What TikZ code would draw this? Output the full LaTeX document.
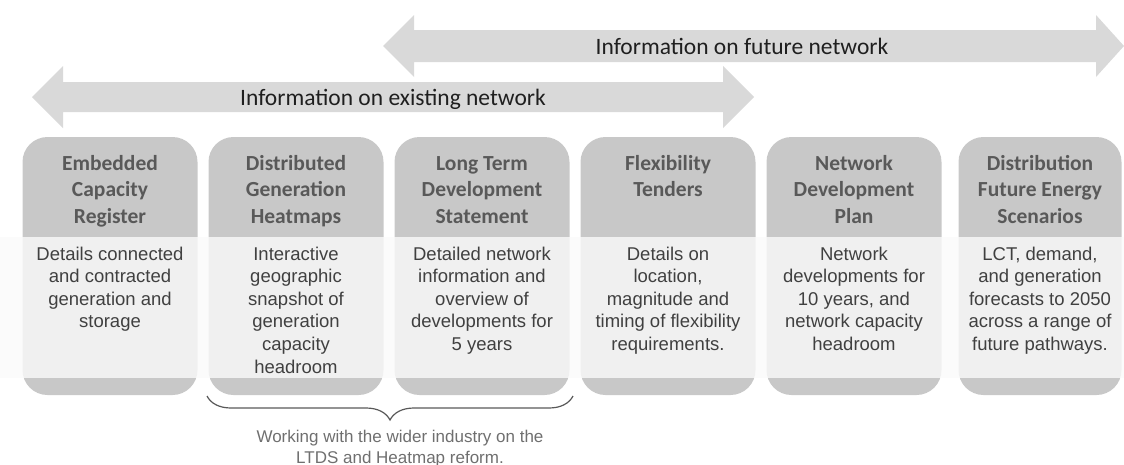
\documentclass[tikz,border=0pt]{standalone}
\usepackage{fontspec}
\setmainfont{Liberation Sans}
\newfontfamily\carlito{Carlito}
\usetikzlibrary{decorations.pathreplacing}
\definecolor{bandGrey}{HTML}{D9D9D9}
\definecolor{cardGrey}{HTML}{C8C8C8}
\definecolor{cardVeil}{HTML}{FAFAFA}
\definecolor{headInk}{HTML}{595959}
\definecolor{bodyInk}{HTML}{404040}
\definecolor{labelInk}{HTML}{1F1F1F}
\definecolor{noteInk}{HTML}{6F6F6F}

\begin{document}
\begin{tikzpicture}[
    x=1pt, y=-1pt,
    card/.style={
        rectangle,
        rounded corners=25pt,
        fill=cardGrey,
        minimum width=175pt,
        minimum height=258pt,
        inner sep=0pt
    },
    head/.style={
        anchor=base,
        align=center,
        inner sep=0pt,
        font=\carlito\bfseries\fontsize{21.5}{26.7}\selectfont,
        text=headInk
    },
    body/.style={
        anchor=base,
        align=center,
        inner sep=0pt,
        font=\fontsize{18.5}{22.6}\selectfont,
        text=bodyInk
    },
    banner/.style={
        anchor=base,
        inner sep=0pt,
        font=\carlito\fontsize{23.5}{28}\selectfont,
        text=labelInk
    },
    note/.style={
        anchor=base,
        align=center,
        inner sep=0pt,
        font=\fontsize{17}{21}\selectfont,
        text=noteInk
    },
    brace/.style={
        decorate,
        decoration={brace, mirror, amplitude=24pt, aspect=0.5},
        draw=headInk,
        line width=1.2pt
    }
]
\useasboundingbox (0,0) rectangle (1124,464);

% Banner arrows
\fill[bandGrey] (383,46) -- (414,15) -- (414,30) -- (1096,30) -- (1096,15)
    -- (1124,46) -- (1096,77) -- (1096,62) -- (414,62) -- (414,77) -- cycle;
\fill[bandGrey] (32,97) -- (63,66) -- (63,82) -- (723,82) -- (723,66)
    -- (754,97) -- (723,128) -- (723,112) -- (63,112) -- (63,128) -- cycle;

\node[banner] (future) at (742,54) {Information on future network};
\node[banner] (existing) at (393,105) {Information on existing network};

% Cards
\node[card] (ecr) at (110,266) {};
\node[card] (dgh) at (296,266) {};
\node[card] (ltds) at (482,266) {};
\node[card] (flex) at (668,266) {};
\node[card] (ndp) at (854,266) {};
\node[card, minimum width=163pt] (dfes) at (1040,266) {};

% Light band over the card bodies
\fill[cardVeil, fill opacity=0.82] (0,237) rectangle (1124,378);

% Card titles (base = last line)
\node[head] (ecrhead) at (110,223.4) {Embedded\\Capacity\\Register};
\node[head] (dghhead) at (296,223.4) {Distributed\\Generation\\Heatmaps};
\node[head] (ltdshead) at (482,223.4) {Long Term\\Development\\Statement};
\node[head] (flexhead) at (668,196.7) {Flexibility\\Tenders};
\node[head] (ndphead) at (854,223.4) {Network\\Development\\Plan};
\node[head] (dfeshead) at (1040,223.4) {Distribution\\Future Energy\\Scenarios};

% Card texts (base = last line)
\node[body] (ecrtext) at (110,327.8) {Details connected\\and contracted\\generation and\\storage};
\node[body] (dghtext) at (296,373) {Interactive\\geographic\\snapshot of\\generation\\capacity\\headroom};
\node[body] (ltdstext) at (482,350.4) {Detailed network\\information and\\overview of\\developments for\\5 years};
\node[body] (flextext) at (668,350.4) {Details on\\location,\\magnitude and\\timing of flexibility\\requirements.};
\node[body] (ndptext) at (854,350.4) {Network\\developments for\\10 years, and\\network capacity\\headroom};
\node[body] (dfestext) at (1040,350.4) {LCT, demand,\\and generation\\forecasts to 2050\\across a range of\\future pathways.};

% Brace under heatmaps and LTDS
\coordinate (braceleft) at (207,396);
\coordinate (braceright) at (573,396);
\draw[brace] (braceleft) -- (braceright);

\node[note] (reform) at (400,463) {Working with the wider industry on the\\LTDS and Heatmap reform.};

\end{tikzpicture}
\end{document}
